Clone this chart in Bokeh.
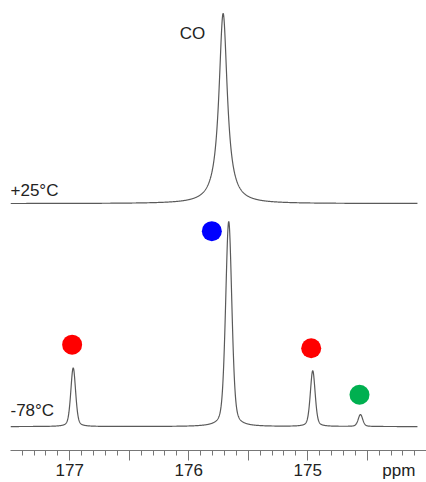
import numpy as np
from bokeh.plotting import figure
from bokeh.models import Range1d, FixedTicker, Label, ColumnDataSource, LinearAxis
from bokeh.embed import file_html
from bokeh.resources import INLINE

# ---- data ----
# +25 °C trace: one CO resonance
top_centers = [175.711]
top_heights = [191.0]
top_fwhm = [0.084]
top_offset = 248.0

# -78 °C trace: four resolved resonances
low_centers = [176.971, 175.664, 174.958, 174.557]
low_heights = [59.0, 206.0, 56.0, 12.0]
low_fwhm = [0.048, 0.062, 0.048, 0.045]
low_offset = 24.0

# coloured markers above the low-temperature peaks
dot_x = [176.98, 175.806, 174.971, 174.565]
dot_y = [106.3, 220.3, 102.7, 56.0]
dot_colors = ["#ff0000", "#0000ff", "#ff0000", "#00b050"]

major_ticks = [177.5, 177.0, 176.5, 176.0, 175.5, 175.0, 174.5, 174.0]
minor_ticks = [round(177.5 - 0.1 * i, 1) for i in range(36)]
label_ticks = [177.0, 176.0, 175.0, 174.235]
label_texts = ["177", "176", "175", "ppm"]

x_start, x_end = 177.498, 174.002
ppm = np.linspace(177.498, 174.078, 2000)


def pvoigt(x, centers, heights, fwhm, eta):
    y = np.zeros_like(x)
    for c, h, w in zip(centers, heights, fwhm):
        g = np.exp(-4 * np.log(2) * ((x - c) / w) ** 2)
        l = 1.0 / (1.0 + 4 * ((x - c) / w) ** 2)
        y += h * (eta * l + (1 - eta) * g)
    return y


top_y = top_offset + pvoigt(ppm, top_centers, top_heights, top_fwhm, 1.0)
low_y = low_offset + pvoigt(ppm, low_centers, low_heights, low_fwhm, 0.35)

p = figure(width=426, height=482, output_backend="svg", toolbar_location=None,
           x_range=Range1d(x_start, x_end), y_range=Range1d(0, 452),
           min_border_left=10, min_border_right=0, min_border_top=0, min_border_bottom=30)
p.outline_line_color = None
p.grid.visible = False
p.yaxis.visible = False
p.background_fill_color = "white"
p.border_fill_color = "white"

line_color = "#5a5a5a"
p.line(ppm, top_y, line_color=line_color, line_width=1.2)
p.line(ppm, low_y, line_color=line_color, line_width=1.2)

src = ColumnDataSource(dict(x=dot_x, y=dot_y, c=dot_colors))
p.scatter("x", "y", source=src, size=20, fill_color="c", line_color=None)

# axis with tick marks only
ax = p.xaxis[0]
ax.ticker = FixedTicker(ticks=major_ticks, minor_ticks=minor_ticks)
ax.major_label_overrides = {t: "" for t in major_ticks}
ax.axis_line_color = "#777777"
ax.major_tick_line_color = "#777777"
ax.minor_tick_line_color = "#777777"
ax.major_tick_out = 10
ax.major_tick_in = 0
ax.minor_tick_out = 5
ax.minor_tick_in = 0
ax.major_label_standoff = 0
ax.major_label_text_font_size = "1px"

# second axis carrying the labels (no line, no tick marks)
lab = LinearAxis(ticker=FixedTicker(ticks=label_ticks, minor_ticks=[]),
                 major_label_overrides=dict(zip(label_ticks, label_texts)))
lab.axis_line_color = None
lab.major_tick_line_color = None
lab.minor_tick_line_color = None
lab.major_tick_out = 0
lab.major_tick_in = 0
lab.minor_tick_out = 0
lab.minor_tick_in = 0
lab.major_label_standoff = 0
lab.major_label_text_font = "Liberation Sans"
lab.major_label_text_font_size = "17px"
lab.major_label_text_color = "#222222"
p.add_layout(lab, "below")

font = "Liberation Sans"
p.add_layout(Label(x=175.969, y=419, text="CO", text_font=font, text_font_size="17px",
                   text_color="#222222", text_align="center", text_baseline="middle"))
p.add_layout(Label(x=177.498, y=261.5, text="+25°C", text_font=font, text_font_size="17px",
                   text_color="#222222", text_align="left", text_baseline="middle"))
p.add_layout(Label(x=177.498, y=40, text="-78°C", text_font=font, text_font_size="17px",
                   text_color="#222222", text_align="left", text_baseline="middle"))

open("out.html", "w").write(file_html(p, INLINE))
